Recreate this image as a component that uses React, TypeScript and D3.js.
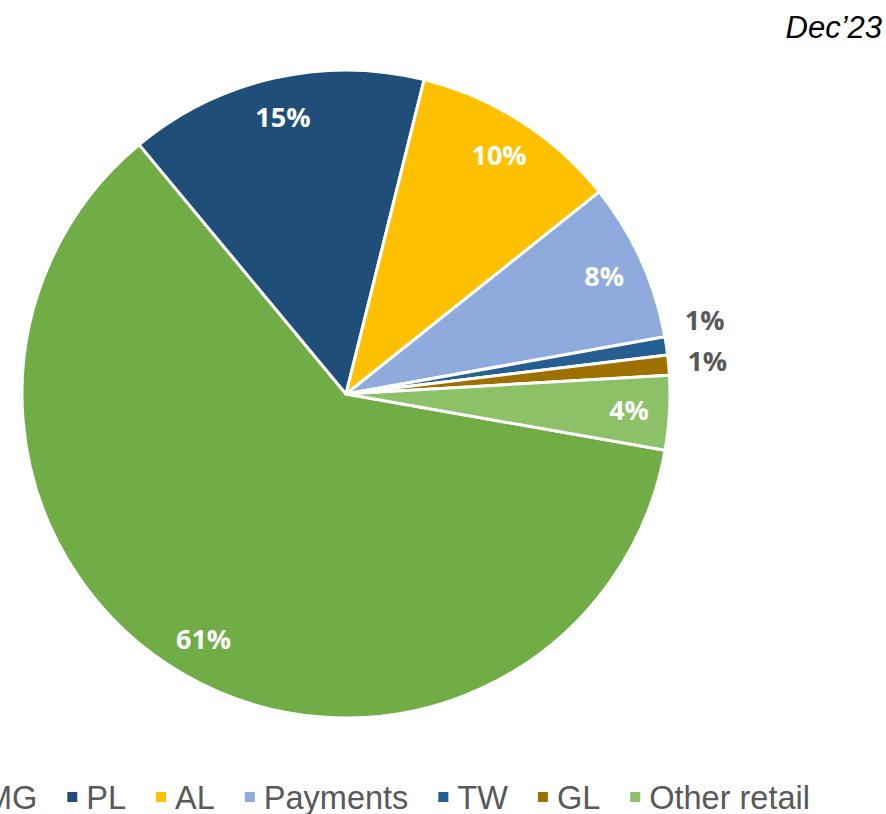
import React, { useEffect, useRef } from 'react';
import * as d3 from 'd3';

// slice order as drawn, clockwise from MG
const categories = ['MG', 'PL', 'AL', 'Payments', 'TW', 'GL', 'Other retail'];
const shares = [61.2, 14.9, 10.4, 7.9, 0.9, 1.0, 3.7];
const colors = ['#70AD47', '#1F4E79', '#FFC000', '#8FAADC', '#255E91', '#9E7000', '#8CC168'];
const outsideLabel = [false, false, false, false, true, true, false];
const periodLabel = 'Dec\u201923';

const W = 886;
const H = 814;

export default function App() {
  const svgRef = useRef<SVGSVGElement>(null);

  useEffect(() => {
    const svg = d3.select(svgRef.current);
    svg.selectAll('*').remove();

    const cx = 346, cy = 394, R = 324;
    const total = d3.sum(shares);
    const data = categories.map((c, i) => ({ name: c, value: shares[i], color: colors[i], outside: outsideLabel[i] }));

    const startAngle = (100 * Math.PI) / 180;
    const pie = d3.pie<any>().value(d => d.value).sort(null)
      .startAngle(startAngle).endAngle(startAngle + 2 * Math.PI);
    const arcs = pie(data);
    const arc = d3.arc<any>().innerRadius(0).outerRadius(R);

    const g = svg.append('g').attr('transform', `translate(${cx},${cy})`);
    g.selectAll('path.slice')
      .data(arcs)
      .join('path')
      .attr('class', 'slice')
      .attr('d', arc)
      .attr('fill', d => d.data.color)
      .attr('stroke', '#fff')
      .attr('stroke-width', 3)
      .attr('stroke-linejoin', 'round');

    // label positions
    const fmt = (v: number) => Math.round((v / total) * 100) + '%';
    const labels = arcs.map(a => {
      const mid = (a.startAngle + a.endAngle) / 2;
      const r = a.data.outside ? R * 1.12 : R * 0.875;
      return { a, x: Math.sin(mid) * r, y: -Math.cos(mid) * r, outside: a.data.outside };
    });
    // push overlapping outside labels apart (upwards)
    const outs = labels.filter(l => l.outside).sort((p, q) => q.y - p.y);
    for (let i = 1; i < outs.length; i++) {
      if (outs[i - 1].y - outs[i].y < 41) outs[i].y = outs[i - 1].y - 41;
    }

    g.selectAll('text.lbl')
      .data(labels)
      .join('text')
      .attr('class', 'lbl')
      .attr('x', d => d.outside ? d.x - 20 : d.x)
      .attr('y', d => d.y)
      .attr('dy', '0.35em')
      .attr('text-anchor', d => d.outside ? 'start' : 'middle')
      .attr('font-family', '"Open Sans", sans-serif')
      .attr('font-weight', 700)
      .attr('font-size', 27)
      .attr('fill', d => d.outside ? '#595959' : '#fff')
      .text(d => fmt(d.a.data.value));

    // period label
    svg.append('text')
      .attr('x', 882)
      .attr('y', 38)
      .attr('text-anchor', 'end')
      .attr('font-family', '"Liberation Sans", Arial, sans-serif')
      .attr('font-style', 'italic')
      .attr('font-size', 31)
      .attr('fill', '#000')
      .text(periodLabel);

    // legend (left end clipped like the original)
    const gap = 30;
    const legend = svg.append('g').attr('transform', `translate(0, 797)`);
    const items = legend.selectAll('g.item')
      .data(data)
      .join('g')
      .attr('class', 'item');
    items.append('rect')
      .attr('width', 10).attr('height', 10)
      .attr('y', -5)
      .attr('fill', d => d.color);
    items.append('text')
      .attr('x', 19)
      .attr('dy', '0.36em')
      .attr('font-family', '"Liberation Sans", Arial, sans-serif')
      .attr('font-size', 32.5)
      .attr('fill', '#595959')
      .text(d => d.name);

    let x = 0;
    const xs: number[] = [];
    items.each(function () {
      const t = d3.select(this).select('text').node() as SVGTextElement;
      xs.push(x);
      x += 19 + t.getComputedTextLength() + gap;
    });
    // anchor so that "Other retail" ends near x = 810
    const shift = 810 - (x - gap);
    items.attr('transform', (_d, i) => `translate(${xs[i] + shift},0)`);
  }, []);

  return (
    <svg ref={svgRef} width={W} height={H} style={{ position: 'absolute', left: 0, top: 0, background: '#fff' }} />
  );
}
